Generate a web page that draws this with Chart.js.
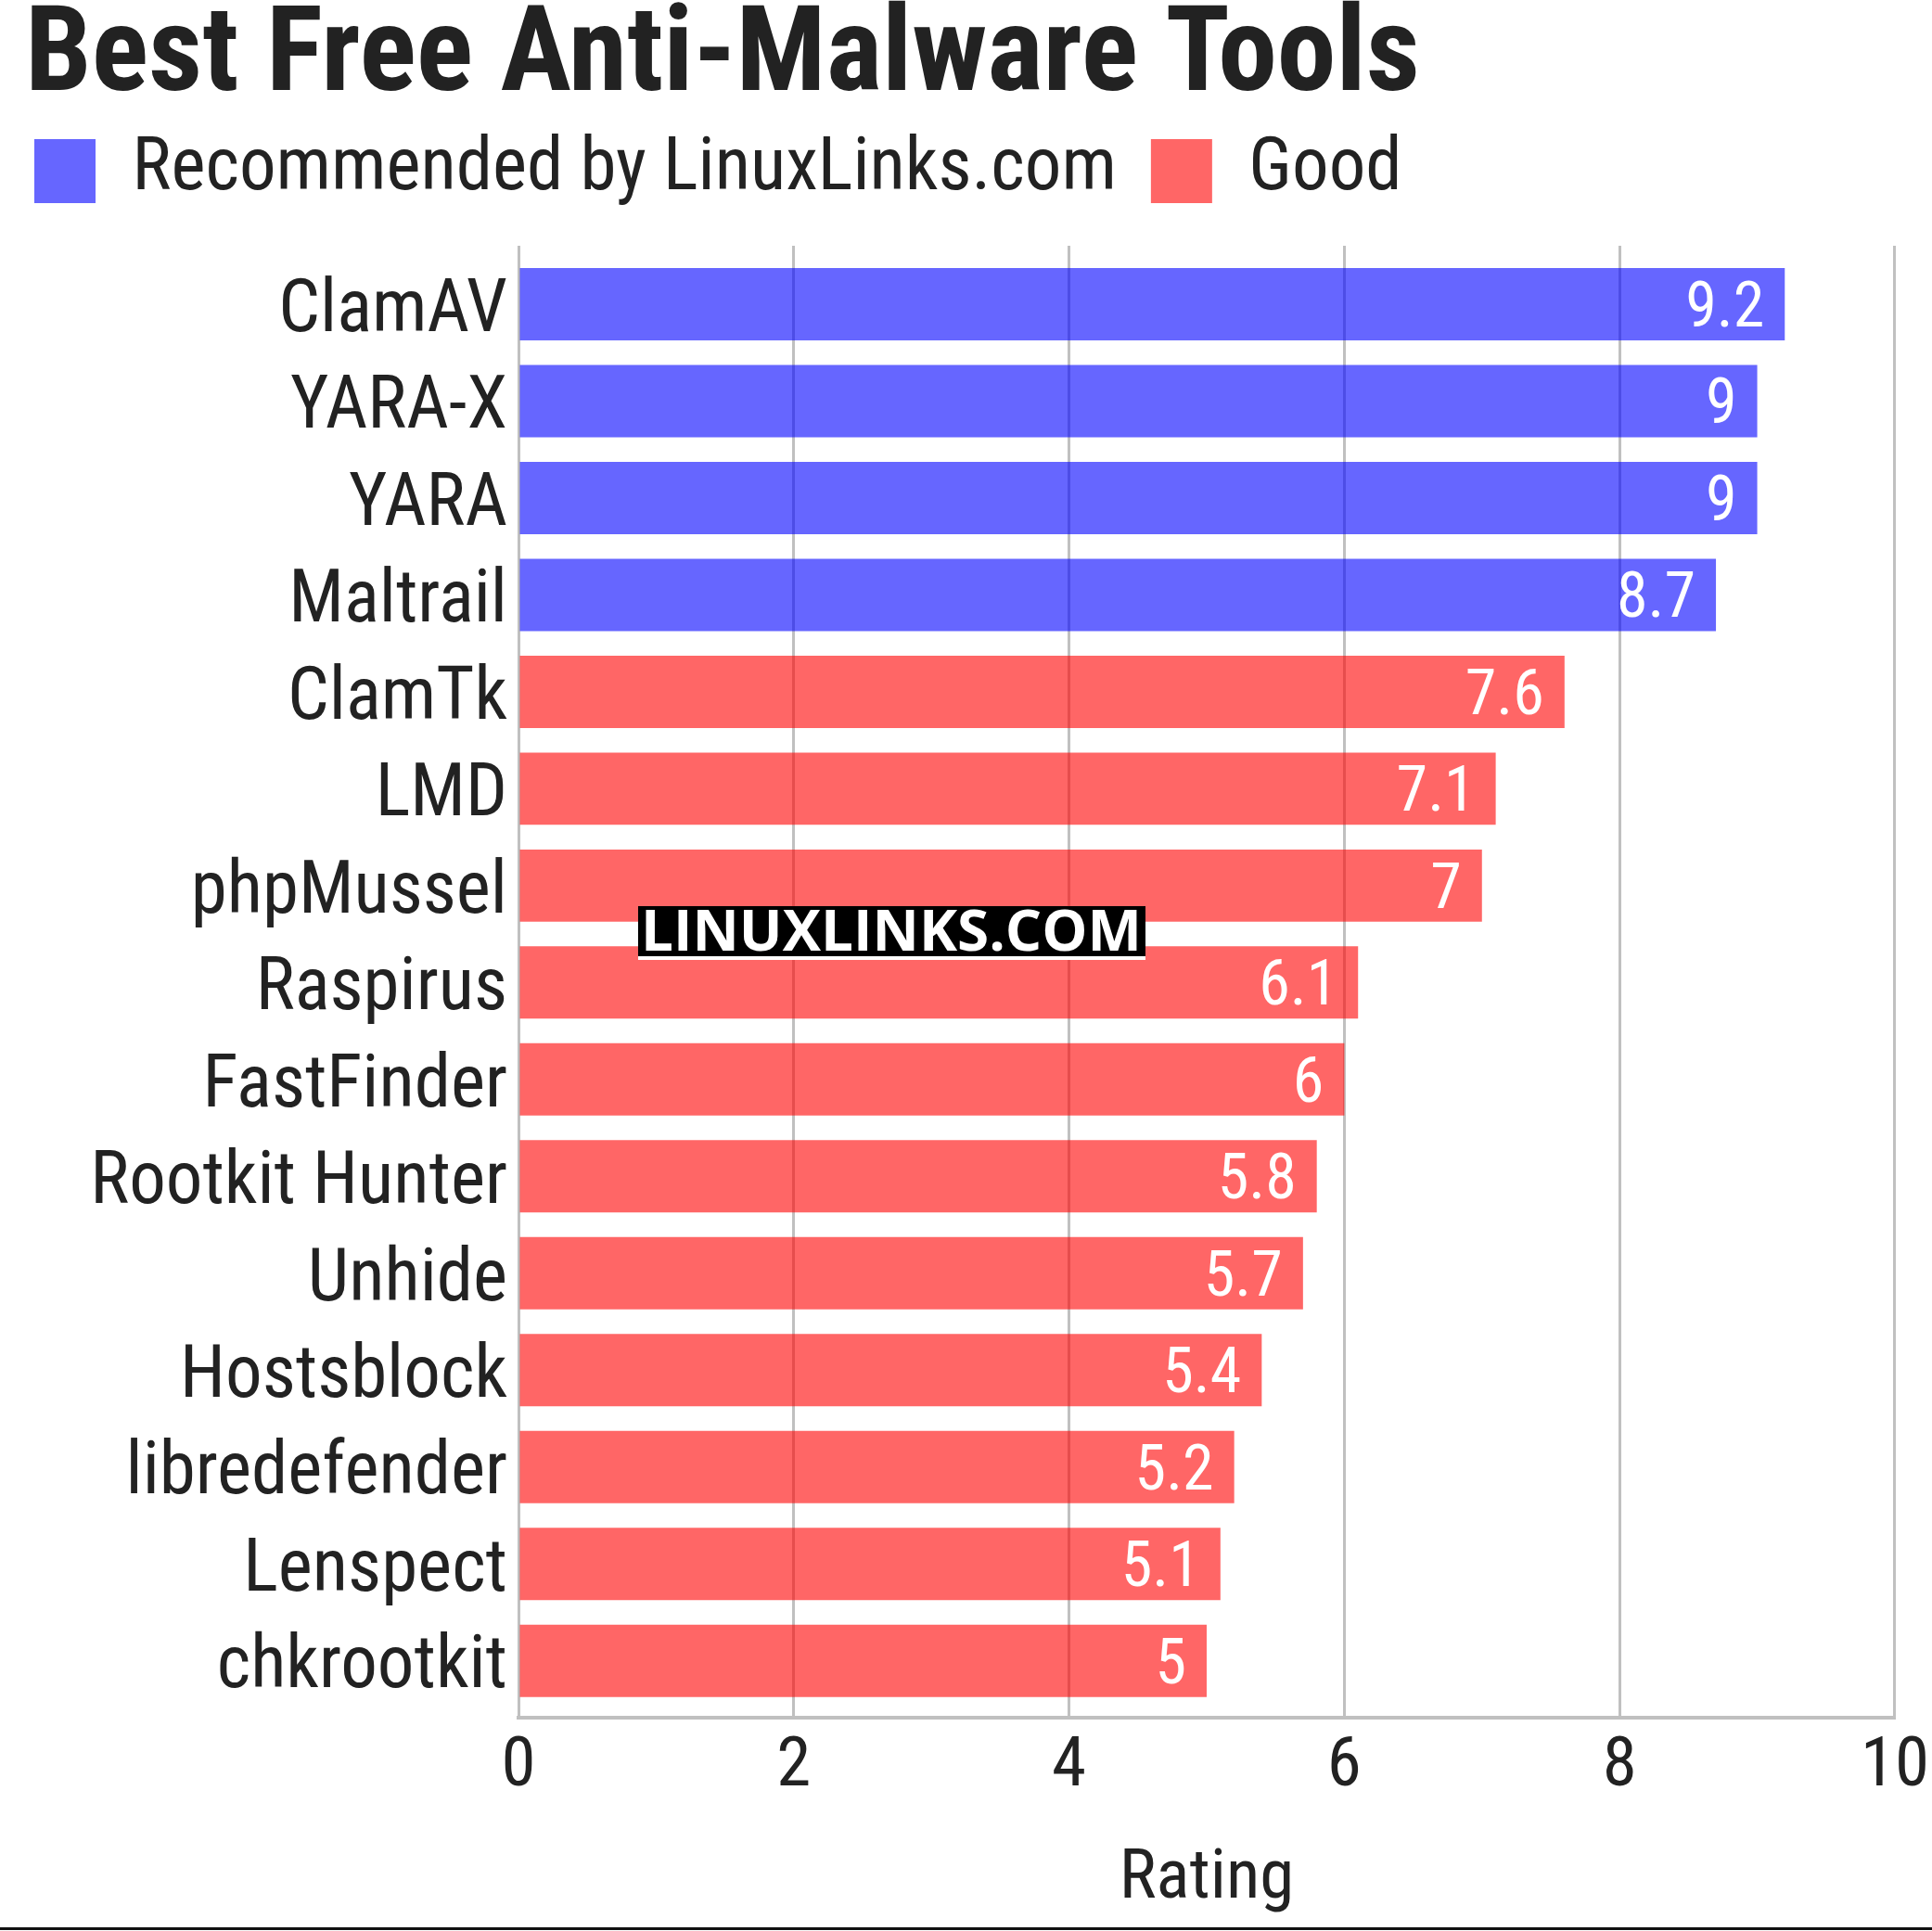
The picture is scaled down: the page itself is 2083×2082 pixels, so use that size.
<!DOCTYPE html>
<html>
<head>
<meta charset="utf-8">
<script src="https://cdn.jsdelivr.net/npm/chart.js@4/dist/chart.umd.min.js"></script>
<style>
  html, body { margin: 0; padding: 0; background: #fff; }
  #wrap { width: 2083px; height: 2082px; }
</style>
</head>
<body>
<div id="wrap"><canvas id="ratingChart" width="2083" height="2082"></canvas></div>
<script>
// chart data
const tools = ['ClamAV', 'YARA-X', 'YARA', 'Maltrail', 'ClamTk', 'LMD', 'phpMussel', 'Raspirus',
    'FastFinder', 'Rootkit Hunter', 'Unhide', 'Hostsblock', 'libredefender', 'Lenspect', 'chkrootkit'];
const recommended = [9.2, 9, 9, 8.7, null, null, null, null, null, null, null, null, null, null, null];
const good = [null, null, null, null, 7.6, 7.1, 7, 6.1, 6, 5.8, 5.7, 5.4, 5.2, 5.1, 5];
const xTicks = [0, 2, 4, 6, 8, 10];

const FONT = "'Roboto Condensed', 'Liberation Sans Narrow', 'Arial Narrow', 'DejaVu Sans Condensed', Roboto, sans-serif";
const TEXT = '#222222';

// value labels inside the bar ends
const barLabels = {
    id: 'barLabels',
    afterDatasetsDraw(chart) {
        const ctx = chart.ctx;
        ctx.save();
        ctx.font = '68px ' + FONT;
        ctx.fillStyle = '#ffffff';
        ctx.textAlign = 'right';
        ctx.textBaseline = 'middle';
        chart.data.datasets.forEach((ds, i) => {
            chart.getDatasetMeta(i).data.forEach((bar, j) => {
                if (ds.data[j] == null) return;
                ctx.fillText(String(ds.data[j]), bar.x - 22, bar.y + 7);
            });
        });
        ctx.restore();
    }
};

// title indent, watermark, bottom rule
const decorations = {
    id: 'decorations',
    afterLayout(chart) {
        chart.titleBlock.left = 27;
    },
    afterDraw(chart) {
        const ctx = chart.ctx;
        ctx.save();
        ctx.fillStyle = '#ffffff';
        ctx.fillRect(688, 1030, 547, 5);
        ctx.fillStyle = '#000000';
        ctx.fillRect(688, 977, 547, 54);
        ctx.font = 'bold 60px "Open Sans", "DejaVu Sans", sans-serif';
        const txt = 'LINUXLINKS.COM';
        const w = ctx.measureText(txt).width;
        ctx.translate(691, 1025);
        ctx.scale(540 / w, 1);
        ctx.fillStyle = '#ffffff';
        ctx.textBaseline = 'alphabetic';
        ctx.fillText(txt, 0, 0);
        ctx.restore();

        ctx.save();
        ctx.fillStyle = '#111111';
        ctx.fillRect(0, 2078, chart.width, 3);
        ctx.restore();
    }
};

const ctx = document.getElementById('ratingChart').getContext('2d');
new Chart(ctx, {
    type: 'bar',
    data: {
        labels: tools,
        datasets: [{
            label: 'Recommended by LinuxLinks.com',
            data: recommended,
            backgroundColor: 'rgba(0, 0, 255, 0.6)',
            borderWidth: 0,
            categoryPercentage: 1,
            barPercentage: 0.746
        }, {
            label: 'Good',
            data: good,
            backgroundColor: 'rgba(255, 0, 0, 0.6)',
            borderWidth: 0,
            categoryPercentage: 1,
            barPercentage: 0.746
        }]
    },
    options: {
        indexAxis: 'y',
        responsive: false,
        animation: false,
        devicePixelRatio: 1,
        layout: { padding: { left: 0, right: 30, top: 0, bottom: 0 } },
        plugins: {
            title: {
                display: true,
                text: 'Best Free Anti-Malware Tools',
                align: 'start',
                color: TEXT,
                font: { family: FONT, size: 128, weight: 'bold', lineHeight: 0.672 },
                padding: { top: 22, bottom: 0 }
            },
            subtitle: {
                display: true,
                text: '',
                weight: 500,
                font: { size: 5, lineHeight: 1 },
                padding: { top: 26, bottom: 0 }
            },
            legend: {
                display: true,
                align: 'start',
                labels: {
                    color: TEXT,
                    font: { family: FONT, size: 79 },
                    boxWidth: 66,
                    boxHeight: 69,
                    padding: 37
                }
            },
            tooltip: { enabled: false }
        },
        scales: {
            x: {
                min: 0,
                max: 10,
                stacked: true,
                afterBuildTicks(scale) {
                    scale.ticks = xTicks.map(v => ({ value: v }));
                },
                afterFit(scale) { scale.height = 230; },
                grid: { color: '#c0c0c0', lineWidth: 3, drawTicks: false },
                border: { color: '#c0c0c0', width: 4 },
                ticks: { color: TEXT, font: { family: FONT, size: 75, lineHeight: 1.36 }, padding: 3 },
                title: {
                    display: true,
                    text: 'Rating',
                    color: TEXT,
                    font: { family: FONT, size: 75 },
                    padding: { top: 0, bottom: 10 }
                }
            },
            y: {
                stacked: true,
                afterBuildTicks(scale) {
                    // band layout of the original: bars start a bit below the grid top
                    scale._startValue = -0.603;
                    scale._valueRange = 15.19;
                },
                afterFit(scale) { scale.width = 559; },
                grid: { display: false, drawTicks: false },
                border: { display: false },
                ticks: { color: TEXT, font: { family: FONT, size: 79 }, padding: 12, labelOffset: 9 }
            }
        }
    },
    plugins: [barLabels, decorations]
});
</script>
</body>
</html>
